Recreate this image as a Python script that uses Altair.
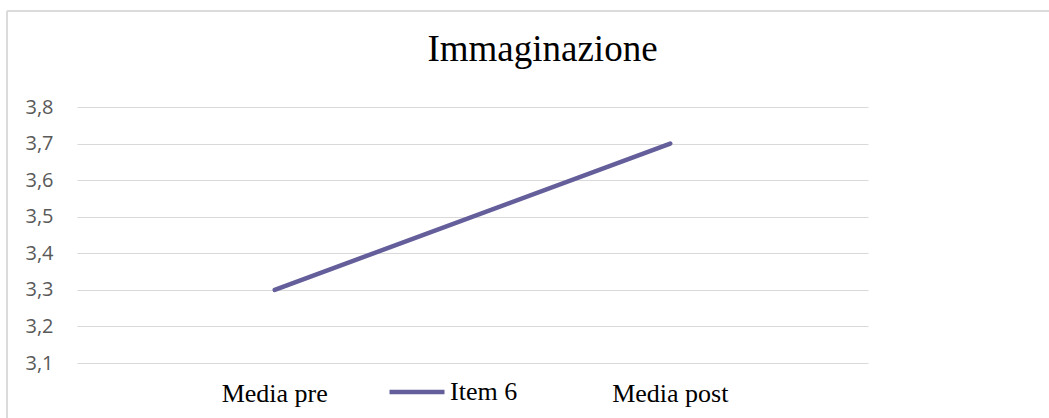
import altair as alt
import pandas as pd

categories = ["Media pre", "Media post"]
values = [3.3, 3.7]
series = ["Item 6", "Item 6"]
y_ticks = [3.1, 3.2, 3.3, 3.4, 3.5, 3.6, 3.7, 3.8]

df = pd.DataFrame({"cat": categories, "val": values, "series": series})

GRID = "#D9D9D9"
LINE = "#645F9B"
SERIF = "Liberation Serif"

line = alt.Chart(df).mark_line(strokeWidth=4.5, strokeCap="round").encode(
    x=alt.X("cat:N", sort=categories, title=None,
            scale=alt.Scale(paddingInner=0, paddingOuter=0.0, type="band"),
            axis=alt.Axis(labelAngle=0, labelFont=SERIF, labelFontSize=26,
                          labelColor="black", domain=False, ticks=False,
                          labelPadding=17, grid=False)),
    y=alt.Y("val:Q", title=None,
            scale=alt.Scale(domain=[3.1, 3.8], nice=False, zero=False),
            axis=alt.Axis(values=y_ticks, labelFont="Open Sans", labelFontSize=20,
                          labelColor="#595959", domain=False, ticks=False,
                          labelPadding=24, gridColor=GRID, gridWidth=1,
                          labelExpr="replace(format(datum.value, '.1f'), '.', ',')")),
    color=alt.Color("series:N", title=None,
                    scale=alt.Scale(domain=["Item 6"], range=[LINE]),
                    legend=alt.Legend(orient="none", legendX=310, legendY=255,
                                      symbolType="stroke", symbolSize=3025,
                                      symbolStrokeWidth=4.5, labelFont=SERIF,
                                      labelFontSize=26, labelColor="black",
                                      labelOffset=3, padding=0)),
)

border_left = alt.Chart(df).mark_rule(color=GRID, strokeWidth=1.5).encode(
    x=alt.value(-70), y=alt.value(-96), y2=alt.value(311))
border_top = alt.Chart(df).mark_rule(color=GRID, strokeWidth=1.5).encode(
    x=alt.value(-70), x2=alt.value(972), y=alt.value(-96))

chart = alt.layer(border_left, border_top, line).properties(
    width=791, height=256,
    background="white",
    title=alt.TitleParams("Immaginazione", font=SERIF, fontSize=37,
                          fontWeight="normal", color="black", anchor="middle",
                          frame="group", baseline="alphabetic", offset=35,
                          dx=70, dy=123),
    padding={"left": 77, "top": 107, "right": 181, "bottom": 55},
    autosize=alt.AutoSizeParams(type="none"),
).configure_view(strokeWidth=0, stroke="transparent")

chart.save("out.html", embed_options={"renderer": "svg", "actions": False})
